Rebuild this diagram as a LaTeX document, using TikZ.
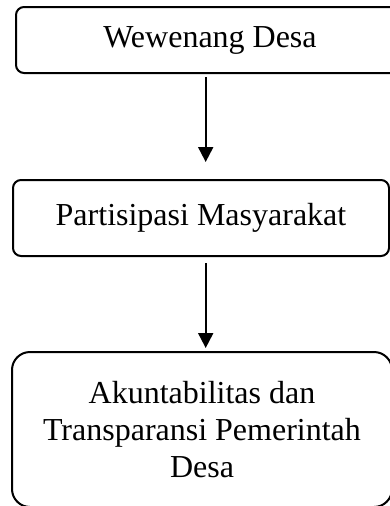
\documentclass[tikz,border=0pt]{standalone}
\usepackage{fontspec}
\setmainfont{Liberation Serif}
\usetikzlibrary{arrows.meta}
\begin{document}
\begin{tikzpicture}[x=1pt,y=1pt,
  box/.style={draw=black,line width=2pt,align=center,inner sep=0pt,
    font=\fontsize{32}{37}\selectfont},
  arr/.style={line width=2pt,-{Triangle[length=15pt,width=15pt]}}]
\useasboundingbox (0,0) rectangle (390,-506);
\clip (0,0) rectangle (390,-506);
\node[box,rounded corners=8pt,minimum width=388pt,minimum height=66pt] (b1) at (210,-40) {\raisebox{-3pt}{Wewenang Desa}};
\node[box,rounded corners=8pt,minimum width=376pt,minimum height=76pt] (b2) at (201,-218) {Partisipasi Masyarakat};
\node[box,rounded corners=18pt,minimum width=380pt,minimum height=155pt] (b3) at (202,-429.5) {Akuntabilitas dan\\Transparansi Pemerintah\\Desa};
\coordinate (ax) at (205.7,0);
\draw[arr,shorten <=3pt,shorten >=17pt] (b1.south -| ax) -- (b2.north -| ax);
\draw[arr,shorten <=6pt,shorten >=3pt] (b2.south -| ax) -- (b3.north -| ax);
\end{tikzpicture}
\end{document}
